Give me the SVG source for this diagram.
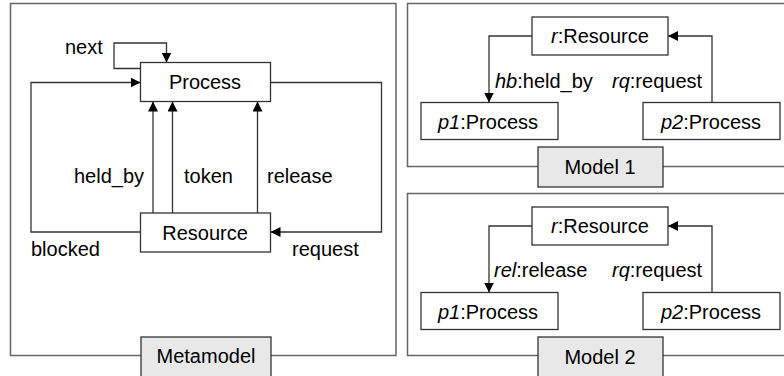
<svg xmlns="http://www.w3.org/2000/svg" width="784" height="376" viewBox="0 0 784 376">
  <defs>
    <marker id="arrow" viewBox="0 0 10 10" refX="10" refY="5" markerWidth="10" markerHeight="10" markerUnits="userSpaceOnUse" orient="auto">
      <path d="M0,0 L10,5 L0,10 Z" fill="#000"/>
    </marker>
    <style>
      text { font-family: "Liberation Sans", Arial, sans-serif; font-size: 20px; fill: #000; }
      .frame { fill: none; stroke: #666; stroke-width: 1.5; }
      .node { fill: #fff; stroke: #333; stroke-width: 1.3; }
      .tag { fill: #e8e8e8; stroke: #333; stroke-width: 1.3; }
      .edge { fill: none; stroke: #333; stroke-width: 1.3; marker-end: url(#arrow); }
      .c { text-anchor: middle; }
      .i { font-style: italic; }
    </style>
  </defs>

  <!-- Metamodel panel -->
  <g id="metamodel-frame">
    <rect class="frame" x="10.5" y="3.5" width="385.5" height="352"/>
  </g>

  <!-- Model 1 panel -->
  <g id="model1-frame">
    <rect class="frame" x="407.5" y="3.5" width="400" height="163"/>
  </g>

  <!-- Model 2 panel -->
  <g id="model2-frame">
    <rect class="frame" x="407.5" y="193.5" width="400" height="162"/>
  </g>

  <g id="connectors">
    <!-- metamodel -->
    <path class="edge" d="M140.5,68.5 H114 V43 H166.5 V62.5"/>
    <path class="edge" d="M140.5,232 H31 V82.5 H140.5"/>
    <path class="edge" d="M270.5,82.5 H381.5 V232 H270.5"/>
    <path class="edge" d="M153,213 V101.5"/>
    <path class="edge" d="M172.5,213 V101.5"/>
    <path class="edge" d="M257.5,213 V101.5"/>
    <!-- model 1 -->
    <path class="edge" d="M532,36 H489 V102.5"/>
    <path class="edge" d="M712,102.5 V36 H668"/>
    <!-- model 2 -->
    <path class="edge" d="M532,226 H489 V292.5"/>
    <path class="edge" d="M712,292.5 V226 H668"/>
  </g>

  <g id="edge-labels">
    <text x="65" y="54">next</text>
    <text x="74" y="183">held_by</text>
    <text x="184" y="183">token</text>
    <text x="267" y="183">release</text>
    <text x="31" y="256">blocked</text>
    <text x="292" y="256">request</text>
    <text x="495" y="88"><tspan class="i">hb</tspan>:held_by</text>
    <text x="612" y="88"><tspan class="i">rq</tspan>:request</text>
    <text x="494" y="277"><tspan class="i">rel</tspan>:release</text>
    <text x="612" y="277"><tspan class="i">rq</tspan>:request</text>
  </g>

  <g id="process">
    <rect class="node" x="140.5" y="62.5" width="130" height="39"/>
    <text class="c" x="205" y="89">Process</text>
  </g>
  <g id="resource">
    <rect class="node" x="140.5" y="213" width="130" height="39"/>
    <text class="c" x="205" y="239.5">Resource</text>
  </g>
  <g id="metamodel-tag">
    <rect class="tag" x="141" y="337" width="130" height="42"/>
    <text class="c" x="206" y="363">Metamodel</text>
  </g>

  <g id="m1-resource">
    <rect class="node" x="532" y="17" width="136" height="38"/>
    <text class="c" x="600" y="43"><tspan class="i">r</tspan>:Resource</text>
  </g>
  <g id="m1-p1">
    <rect class="node" x="421" y="102.5" width="137" height="37"/>
    <text class="c" x="488" y="128.5"><tspan class="i">p1</tspan>:Process</text>
  </g>
  <g id="m1-p2">
    <rect class="node" x="643" y="102.5" width="137" height="37"/>
    <text class="c" x="711" y="128.5"><tspan class="i">p2</tspan>:Process</text>
  </g>
  <g id="model1-tag">
    <rect class="tag" x="538" y="147" width="125" height="40"/>
    <text class="c" x="600" y="174">Model 1</text>
  </g>

  <g id="m2-resource">
    <rect class="node" x="532" y="207" width="136" height="38"/>
    <text class="c" x="600" y="233"><tspan class="i">r</tspan>:Resource</text>
  </g>
  <g id="m2-p1">
    <rect class="node" x="421" y="292.5" width="137" height="37"/>
    <text class="c" x="488" y="318.5"><tspan class="i">p1</tspan>:Process</text>
  </g>
  <g id="m2-p2">
    <rect class="node" x="643" y="292.5" width="137" height="37"/>
    <text class="c" x="711" y="318.5"><tspan class="i">p2</tspan>:Process</text>
  </g>
  <g id="model2-tag">
    <rect class="tag" x="538" y="337" width="125" height="42"/>
    <text class="c" x="600" y="364">Model 2</text>
  </g>
</svg>
